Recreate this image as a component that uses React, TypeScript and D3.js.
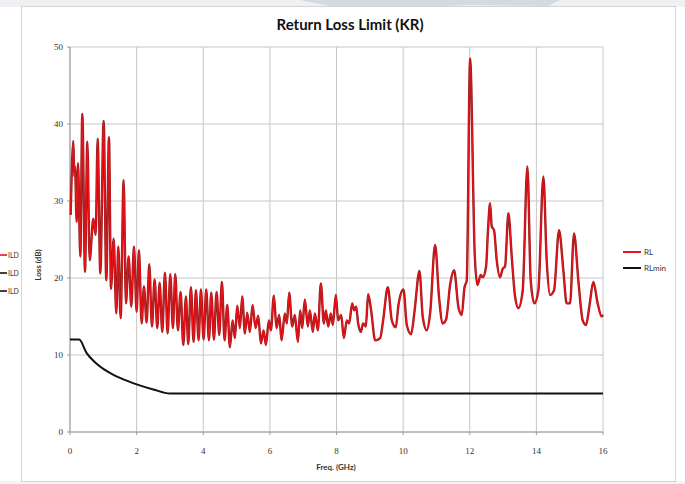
import React from "react";
import * as d3 from "d3";

// Measured return loss (RL) of the channel, frequency in GHz and loss in dB
const rlFreq = [
  0.02, 0.1, 0.13, 0.15, 0.2, 0.24, 0.31, 0.37, 0.45, 0.52, 0.59, 0.7, 0.77, 0.83, 0.91, 1.01, 1.09, 1.17, 1.23, 1.31,
  1.39, 1.45, 1.52, 1.61, 1.68, 1.76, 1.84, 1.92, 2.0, 2.07, 2.15, 2.22, 2.3, 2.38, 2.46, 2.54, 2.62, 2.69, 2.77, 2.85,
  2.93, 3.01, 3.09, 3.16, 3.24, 3.32, 3.4, 3.48, 3.55, 3.63, 3.71, 3.78, 3.86, 3.93, 4.01, 4.09, 4.17, 4.24, 4.32, 4.4,
  4.48, 4.56, 4.64, 4.72, 4.8, 4.88, 4.95, 5.02, 5.1, 5.17, 5.25, 5.32, 5.4, 5.48, 5.57, 5.65, 5.73, 5.81, 5.88, 5.97,
  6.03, 6.12, 6.2, 6.28, 6.35, 6.45, 6.51, 6.58, 6.67, 6.75, 6.84, 6.91, 6.97, 7.05, 7.14, 7.2, 7.29, 7.35, 7.44, 7.53,
  7.62, 7.68, 7.75, 7.83, 7.89, 7.98, 8.05, 8.14, 8.22, 8.31, 8.38, 8.47, 8.53, 8.59, 8.65, 8.73, 8.8, 8.88, 8.95, 9.04,
  9.16, 9.31, 9.4, 9.54, 9.66, 9.78, 9.86, 10.01, 10.11, 10.24, 10.34, 10.49, 10.59, 10.71, 10.81, 10.96, 11.08, 11.19, 11.29, 11.41,
  11.53, 11.66, 11.76, 11.84, 11.91, 12.01, 12.15, 12.23, 12.33, 12.39, 12.49, 12.55, 12.61, 12.66, 12.73, 12.81, 12.91, 12.99, 13.06, 13.16,
  13.26, 13.36, 13.46, 13.59, 13.73, 13.83, 13.94, 14.06, 14.21, 14.31, 14.41, 14.53, 14.68, 14.81, 14.91, 15.01, 15.13, 15.26, 15.39, 15.49,
  15.59, 15.71, 15.84, 15.96, 16.0,
];
const rlLoss = [
  28.2, 37.8, 33.2, 34.5, 27.3, 34.9, 22.8, 41.3, 20.8, 37.7, 22.3, 27.7, 25.6, 38.1, 20.6, 40.4, 19.7, 38.3, 18.6, 25.1,
  15.4, 24.1, 14.8, 32.7, 16.7, 22.8, 16.3, 24.1, 15.6, 23.6, 14.1, 18.9, 14.2, 21.8, 13.7, 19.8, 13.5, 19.4, 13.0, 20.7,
  12.8, 20.5, 13.5, 20.5, 13.2, 18.2, 11.3, 17.6, 11.4, 18.8, 11.7, 18.4, 11.9, 18.5, 12.0, 18.5, 11.9, 18.1, 12.0, 18.2,
  12.6, 19.5, 11.9, 16.5, 11.0, 14.5, 12.2, 16.4, 13.5, 17.6, 12.8, 15.5, 13.0, 16.5, 13.5, 15.1, 11.5, 13.2, 11.3, 14.5,
  13.2, 17.7, 13.5, 15.2, 11.9, 15.4, 14.1, 18.1, 13.7, 15.2, 11.7, 15.8, 13.5, 17.2, 13.7, 15.8, 13.0, 15.4, 13.2, 19.3,
  14.1, 15.8, 13.7, 15.4, 13.9, 17.8, 14.5, 15.2, 12.2, 14.5, 14.1, 16.7, 15.8, 16.3, 14.1, 13.0, 14.1, 13.7, 17.9, 15.8,
  11.9, 12.2, 14.5, 18.8, 14.5, 13.6, 16.5, 18.5, 13.9, 12.7, 15.6, 20.9, 14.9, 13.2, 15.4, 24.3, 17.4, 14.1, 14.6, 19.1,
  21.0, 16.2, 15.2, 18.7, 19.7, 48.5, 23.0, 19.1, 20.4, 20.1, 21.5, 26.4, 29.7, 26.7, 26.2, 22.3, 20.1, 21.2, 21.5, 28.4,
  22.8, 17.6, 16.1, 18.4, 34.5, 19.7, 16.7, 18.4, 33.2, 22.3, 17.8, 18.4, 26.2, 21.0, 16.7, 16.7, 25.8, 19.7, 14.5, 13.9,
  16.3, 19.5, 16.7, 15.0, 15.2,
];

// Return loss limit (RLmin) for the KR channel
const rlMinFreq = [0, 0.275, 0.5, 0.75, 1, 1.25, 1.5, 2, 2.5, 3, 16];
const rlMinLoss = [12, 12, 10.25, 9.06, 8.2, 7.56, 7.03, 6.19, 5.53, 5, 5];

const xTicks = [0, 2, 4, 6, 8, 10, 12, 14, 16];
const yTicks = [0, 10, 20, 30, 40, 50];

const legendItems = [
  { name: "RL", color: "#e0161d" },
  { name: "RLmin", color: "#111111" },
];
const sideLegend = [
  { name: "ILD", color: "#e0161d" },
  { name: "ILD", color: "#111111" },
  { name: "ILD", color: "#111111" },
];

const W = 685;
const H = 484;
const plot = { left: 70, right: 603, top: 47, bottom: 432 };

export default function App() {
  const x = d3.scaleLinear().domain([0, 16]).range([plot.left, plot.right]);
  const y = d3.scaleLinear().domain([0, 50]).range([plot.bottom, plot.top]);

  const rlPts: [number, number][] = rlFreq.map((f, i) => [f, rlLoss[i]]);
  const minPts: [number, number][] = rlMinFreq.map((f, i) => [f, rlMinLoss[i]]);

  const line = d3
    .line<[number, number]>()
    .x((d) => x(d[0]))
    .y((d) => y(d[1]))
    .curve(d3.curveMonotoneX);

  const sans = "Lato, 'Open Sans', sans-serif";
  const serif = "'Liberation Serif', 'DejaVu Serif', serif";

  return (
    <svg
      width={W}
      height={H}
      style={{ position: "absolute", left: 0, top: 0, background: "#ffffff" }}
    >
      {/* page strip above the chart */}
      <rect x={0} y={0} width={W} height={7} fill="#eef0f3" />
      <path d="M300,0 L560,0 L548,6 L470,5 L420,7 L330,6 Z" fill="#c3ccd6" opacity={0.6} />
      <rect x={0} y={481} width={W} height={3} fill="#f3f4f5" />

      {/* chart frame */}
      <rect x={21.5} y={6.5} width={654} height={475} fill="#ffffff" stroke="#d4d4d4" />

      {/* legend fragment of neighbouring chart */}
      {sideLegend.map((s, i) => (
        <g key={i} transform={`translate(0, ${255 + i * 18})`}>
          <line x1={0} x2={7} y1={0} y2={0} stroke={s.color} strokeWidth={1.6} />
          <text x={8} y={2.5} fontSize={7} fontFamily={sans} fill="#333">
            {s.name}
          </text>
        </g>
      ))}

      {/* title */}
      <text x={350} y={30} textAnchor="middle" fontFamily={sans} fontWeight={700} fontSize={15} fill="#111">
        Return Loss Limit (KR)
      </text>

      {/* grid */}
      {xTicks.map((t) => (
        <line key={`gx${t}`} x1={x(t)} x2={x(t)} y1={plot.top} y2={plot.bottom} stroke="#c6c6c6" strokeWidth={1} />
      ))}
      {yTicks.map((t) => (
        <line key={`gy${t}`} x1={plot.left} x2={plot.right} y1={y(t)} y2={y(t)} stroke="#c6c6c6" strokeWidth={1} />
      ))}

      {/* axes */}
      <line x1={plot.left} x2={plot.left} y1={plot.top} y2={plot.bottom} stroke="#9a9a9a" />
      <line x1={plot.left} x2={plot.right} y1={plot.bottom} y2={plot.bottom} stroke="#9a9a9a" />
      {yTicks.map((t) => (
        <g key={`ty${t}`}>
          <line x1={plot.left - 3} x2={plot.left} y1={y(t)} y2={y(t)} stroke="#9a9a9a" />
          <text x={plot.left - 7} y={y(t) + 3} textAnchor="end" fontFamily={serif} fontSize={9} fill="#333">
            {t}
          </text>
        </g>
      ))}
      {xTicks.map((t) => (
        <g key={`tx${t}`}>
          <line x1={x(t)} x2={x(t)} y1={plot.bottom} y2={plot.bottom + 3} stroke="#9a9a9a" />
          <text x={x(t)} y={plot.bottom + 22} textAnchor="middle" fontFamily={serif} fontSize={9} fill="#333">
            {t}
          </text>
        </g>
      ))}

      {/* axis titles */}
      <text
        transform={`translate(41, 265) rotate(-90)`}
        textAnchor="middle"
        fontFamily={sans}
        fontSize={8}
        fontWeight={700}
        fill="#333"
      >
        Loss (dB)
      </text>
      <text x={336} y={470} textAnchor="middle" fontFamily={sans} fontSize={8} fontWeight={700} fill="#333">
        Freq. (GHz)
      </text>

      {/* series */}
      <path d={line(minPts) ?? ""} fill="none" stroke="#111" strokeWidth={2} />
      <path d={line(rlPts) ?? ""} fill="none" stroke="#9c1a1a" strokeWidth={2.4} strokeLinejoin="round" />
      <path d={line(rlPts) ?? ""} fill="none" stroke="#e8141c" strokeWidth={1.3} strokeLinejoin="round" />

      {/* legend */}
      {legendItems.map((s, i) => (
        <g key={s.name} transform={`translate(623, ${252 + i * 16})`}>
          <line x1={0} x2={18} y1={0} y2={0} stroke={s.color} strokeWidth={2} />
          <text x={21} y={3} fontFamily={sans} fontSize={8} fill="#333">
            {s.name}
          </text>
        </g>
      ))}
    </svg>
  );
}
